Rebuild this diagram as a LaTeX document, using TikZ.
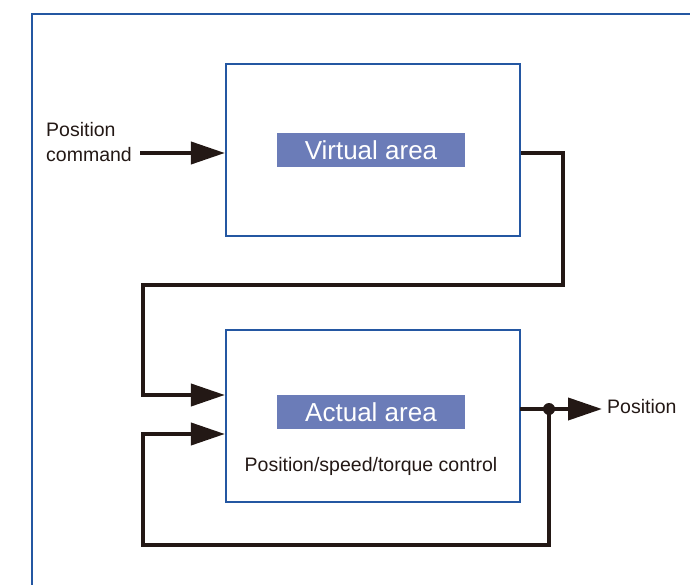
\documentclass[tikz,border=0pt]{standalone}
\usepackage{fontspec}
\setmainfont{Liberation Sans}
\usetikzlibrary{arrows.meta,positioning}
\definecolor{frameblue}{HTML}{2457A2}
\definecolor{labelblue}{HTML}{6B7CB8}
\definecolor{wire}{HTML}{231815}

\begin{document}
\begin{tikzpicture}[x=1pt,y=-1pt]
    \tikzset{block/.style={draw=frameblue,line width=2.2pt,minimum width=294pt,minimum height=172pt,inner sep=0pt}}
    \tikzset{tag/.style={fill=labelblue,text=white,minimum width=188pt,minimum height=34pt,inner sep=0pt,font=\fontsize{26}{29}\selectfont}}
    \tikzset{wireline/.style={draw=wire,line width=4pt}}
    \tikzset{bigarrow/.style={wireline,-{Triangle[length=34pt,width=22pt]}}}
    \tikzset{txt/.style={inner sep=0pt,text=wire,font=\fontsize{19.5}{25}\selectfont}}
    \useasboundingbox (0,0) rectangle (690,585);
    % outer frame
    \draw[frameblue,line width=2pt] (690,14) -- (32,14) -- (32,590);
    % blocks
    \node[block] (virtual) at (373,150) {};
    \node[block] (actual) at (373,416) {};
    \node[tag] (vtag) at (371,150) {Virtual area};
    \node[tag] (atag) at (371,412) {Actual area};
    \node[txt] (ctrl) at (371,466) {Position/speed/torque control};
    % inputs and outputs
    \node[txt,anchor=west,align=left] (cmd) at (46,142) {Position\\command};
    \node[txt,anchor=west] (pos) at (607,407) {Position};
    \coordinate (cmdend) at (140,153);
    \coordinate (vout) at (virtual.east |- 0,153);
    \coordinate (ain1) at (actual.west |- 0,395);
    \coordinate (ain2) at (actual.west |- 0,434);
    \coordinate (aout) at (520,409);
    \coordinate (tap) at (549,409);
    \coordinate (posend) at (602,409);
    \draw[bigarrow] (cmdend) -- (virtual.west |- cmdend);
    \draw[bigarrow] (vout) -| (563,285) -| (143,395) -- (ain1);
    \draw[wireline] (aout) -- (tap);
    \draw[bigarrow] (tap) -- (posend);
    \draw[bigarrow] (tap) |- (143,545) |- (ain2);
    \fill[wire] (tap) circle (6pt);
\end{tikzpicture}
\end{document}
